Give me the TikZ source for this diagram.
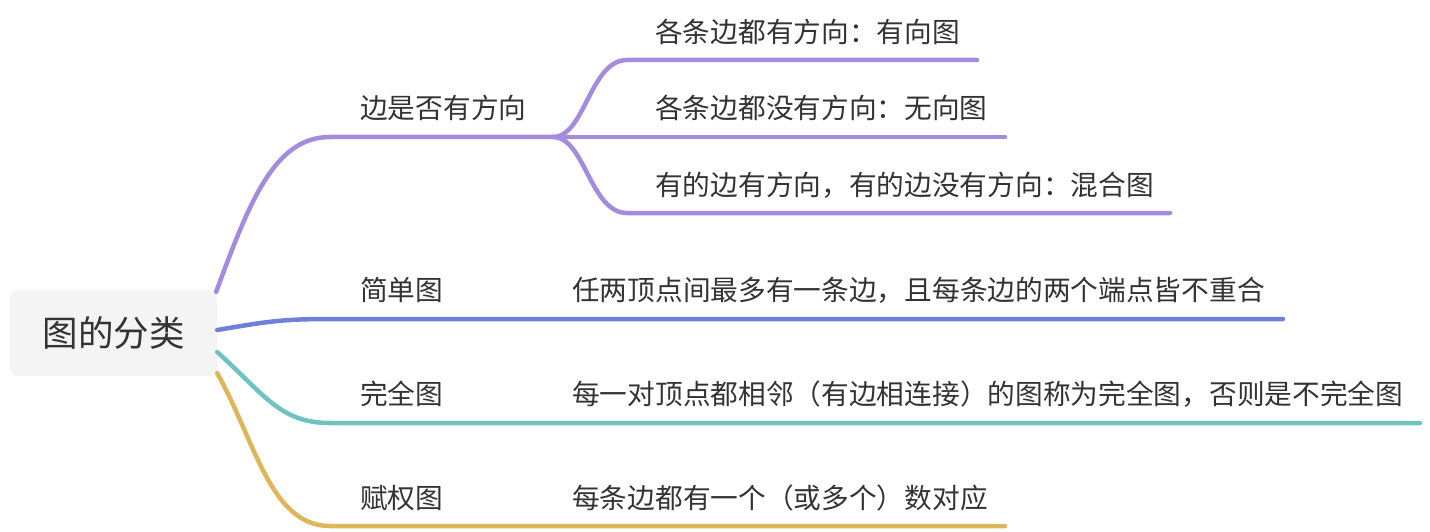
\documentclass[tikz,border=0pt]{standalone}
\usepackage{fontspec}
\setmainfont{Noto Sans CJK SC}
\usetikzlibrary{positioning,calc}
\definecolor{inkgray}{HTML}{333333}
\definecolor{rootgray}{HTML}{F4F4F4}
\definecolor{dirpurple}{HTML}{A38BDD}
\definecolor{simpleblue}{HTML}{6F80D9}
\definecolor{completeteal}{HTML}{6EC3BF}
\definecolor{weightgold}{HTML}{DDB65A}
\tikzset{
    rootbox/.style={fill=rootgray, rounded corners=8pt, text=inkgray,
        font=\fontsize{35.5}{42}\selectfont, minimum width=207pt, minimum height=86pt},
    mapbox/.style={anchor=west, inner sep=0pt, text=inkgray,
        font=\fontsize{27.7}{34}\selectfont},
    mapline/.style={line width=4.5pt, line cap=round}
}

\begin{document}
\begin{tikzpicture}[x=1pt, y=-1pt]
\useasboundingbox (0,0) rectangle (1430,532);
\node[rootbox] (root) at (113.5,333) {图的分类};
\node[mapbox] (direction) at (360,108) {边是否有方向};
\node[mapbox] (directed) at (655,32) {各条边都有方向：有向图};
\node[mapbox] (undirected) at (655,108) {各条边都没有方向：无向图};
\node[mapbox] (mixed) at (655,185) {有的边有方向，有的边没有方向：混合图};
\node[mapbox] (simple) at (360,290) {简单图};
\node[mapbox] (simpledef) at (572,290) {任两顶点间最多有一条边，且每条边的两个端点皆不重合};
\node[mapbox] (complete) at (360,394) {完全图};
\node[mapbox] (completedef) at (572,394) {每一对顶点都相邻（有边相连接）的图称为完全图，否则是不完全图};
\node[mapbox] (weighted) at (360,498) {赋权图};
\node[mapbox] (weighteddef) at (572,498) {每条边都有一个（或多个）数对应};
\coordinate (dirfork) at (553,137);
\coordinate (directedend) at (977,60);
\coordinate (undirectedend) at (1005,137);
\coordinate (mixedend) at (1170,213);
\coordinate (simpleend) at (1283,319);
\coordinate (completeend) at (1420,423);
\coordinate (weightedend) at (1005,526);
\draw[mapline, dirpurple] ($(root.north east)+(-1,2)$) .. controls (250,200) and (275,137) .. (330,137) -- (dirfork);
\draw[mapline, dirpurple] (dirfork) .. controls (585,137) and (590,60) .. (627,60) -- (directedend);
\draw[mapline, dirpurple] (dirfork) -- (undirectedend);
\draw[mapline, dirpurple] (dirfork) .. controls (585,137) and (590,213) .. (627,213) -- (mixedend);
\draw[mapline, simpleblue] ($(root.east)+(0,-3)$) .. controls (265,322) and (280,319) .. (330,319) -- (simpleend);
\draw[mapline, completeteal] ($(root.east)+(0,19)$) .. controls (265,395) and (280,423) .. (330,423) -- (completeend);
\draw[mapline, weightgold] ($(root.south east)+(0,-3)$) .. controls (255,440) and (270,526) .. (330,526) -- (weightedend);
\end{tikzpicture}
\end{document}
